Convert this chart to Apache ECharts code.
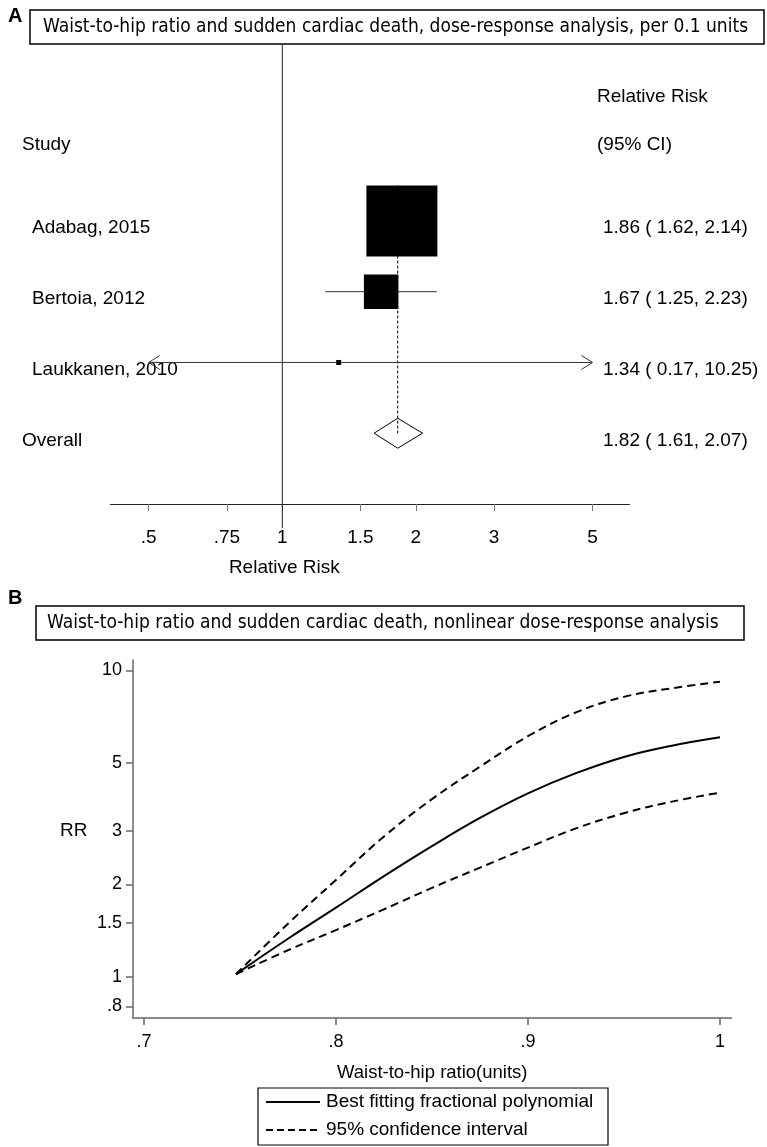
<!DOCTYPE html>
<html><head><meta charset="utf-8">
<script src="https://cdn.jsdelivr.net/npm/echarts@6/dist/echarts.min.js"></script>
<style>html,body{margin:0;padding:0;background:#fff}#c{width:767px;height:1147px}</style>
</head><body><div id="c"></div>
<script>
// ---------- Panel A: forest plot data ----------
const studies = ['Adabag, 2015', 'Bertoia, 2012', 'Laukkanen, 2010'];
const studyRR = [1.86, 1.67, 1.34];
const studyLo = [1.62, 1.25, 0.17];
const studyHi = [2.14, 2.23, 10.25];
const studyWeight = [80.6, 19.0, 0.4];
const overallLabel = 'Overall';
const overallRR = [1.82];
const overallLo = [1.61];
const overallHi = [2.07];
const forestTicks = [0.5, 0.75, 1, 1.5, 2, 3, 5];
const forestTickLabels = ['.5', '.75', '1', '1.5', '2', '3', '5'];

// ---------- Panel B: nonlinear dose-response data ----------
const whr = [0.748, 0.775, 0.8, 0.825, 0.85, 0.875, 0.9, 0.925, 0.95, 0.975, 1.0];
const rrFit = [1.02, 1.33, 1.68, 2.13, 2.67, 3.30, 3.97, 4.62, 5.22, 5.68, 6.05];
const rrUpper = [1.02, 1.49, 2.07, 2.87, 3.80, 4.85, 6.10, 7.30, 8.20, 8.75, 9.19];
const rrLower = [1.02, 1.22, 1.42, 1.66, 1.95, 2.27, 2.64, 3.05, 3.42, 3.73, 3.99];
const whrTicks = [0.7, 0.8, 0.9, 1.0];
const whrTickLabels = ['.7', '.8', '.9', '1'];
const rrTicks = [0.8, 1, 1.5, 2, 3, 5, 10];
const rrTickLabels = ['.8', '1', '1.5', '2', '3', '5', '10'];
const legendNames = ['Best fitting fractional polynomial', '95% confidence interval'];

// ---------- build ----------
const L = Math.log;
const FONT = '"Liberation Sans", Arial, Helvetica, sans-serif';
const TFONT = '"DejaVu Sans Condensed", "DejaVu Sans", sans-serif';
const nS = studies.length;
const overallRow = nS + 1;
const tickMinLn = L(forestTicks[0]);
const tickMaxLn = L(forestTicks[forestTicks.length - 1]);
function lab(v, ticks, labels) {
  let best = 0, bd = Infinity;
  ticks.forEach((t, i) => { const d = Math.abs(L(t) - v); if (d < bd) { bd = d; best = i; } });
  return labels[best];
}
function labLin(v, ticks, labels) {
  let best = 0, bd = Infinity;
  ticks.forEach((t, i) => { const d = Math.abs(t - v); if (d < bd) { bd = d; best = i; } });
  return labels[best];
}

const chart = echarts.init(document.getElementById('c'), null, {renderer: 'canvas'});

const option = {
  animation: false,
  backgroundColor: '#fff',
  grid: [
    {left: 110.5, top: 44, width: 519, height: 460},
    {left: 133, top: 660, width: 598.5, height: 358}
  ],
  xAxis: [
    {
      gridIndex: 0, type: 'value', min: L(0.41), max: L(6.06),
      axisLine: {show: true, onZero: false, lineStyle: {color: '#222', width: 1}},
      axisTick: {show: true, customValues: forestTicks.map(L), length: 7, lineStyle: {color: '#777', width: 1}},
      axisLabel: {customValues: forestTicks.map(L), formatter: v => lab(v, forestTicks, forestTickLabels),
        margin: 24, fontSize: 19, color: '#000', fontFamily: FONT},
      splitLine: {show: false}
    },
    {
      gridIndex: 1, type: 'value', min: 0.6943, max: 1.006,
      axisLine: {show: true, onZero: false, lineStyle: {color: '#666', width: 1.5}},
      axisTick: {show: true, customValues: whrTicks, length: 7, lineStyle: {color: '#666', width: 1.5}},
      axisLabel: {customValues: whrTicks, formatter: v => labLin(v, whrTicks, whrTickLabels),
        margin: 15, fontSize: 18, color: '#000', fontFamily: FONT},
      splitLine: {show: false},
      name: 'Waist-to-hip ratio(units)', nameLocation: 'middle', nameGap: 45,
      nameTextStyle: {fontSize: 18.5, color: '#000', fontFamily: FONT}
    }
  ],
  yAxis: [
    {gridIndex: 0, type: 'value', min: -1.5, max: nS + 2, inverse: true, show: false},
    {
      gridIndex: 1, type: 'value', min: L(0.733), max: L(10.82),
      axisLine: {show: true, onZero: false, lineStyle: {color: '#666', width: 1.5}},
      axisTick: {show: true, customValues: rrTicks.map(L), length: 7, lineStyle: {color: '#666', width: 1.5}},
      axisLabel: {customValues: rrTicks.map(L), formatter: v => lab(v, rrTicks, rrTickLabels),
        margin: 11, fontSize: 18, color: '#000', fontFamily: FONT},
      splitLine: {show: false}
    }
  ],
  series: [
    // null line at RR = 1
    {
      type: 'custom', xAxisIndex: 0, yAxisIndex: 0, clip: false, silent: true,
      data: [[L(1)]],
      renderItem: (params, api) => {
        const a = api.coord([api.value(0), -1.5]);
        const b = api.coord([api.value(0), nS + 2]);
        return {type: 'line', shape: {x1: a[0], y1: a[1], x2: b[0], y2: b[1] + 24},
          style: {stroke: '#222', lineWidth: 1}};
      }
    },
    // overall dashed line
    {
      type: 'custom', xAxisIndex: 0, yAxisIndex: 0, clip: false, silent: true,
      data: [[L(overallRR[0])]],
      renderItem: (params, api) => {
        const a = api.coord([api.value(0), 0.5]);
        const b = api.coord([api.value(0), overallRow]);
        return {type: 'line', shape: {x1: a[0], y1: a[1], x2: b[0], y2: b[1]},
          style: {stroke: '#000', lineWidth: 1, lineDash: [3, 2]}};
      }
    },
    // confidence intervals
    {
      type: 'custom', xAxisIndex: 0, yAxisIndex: 0, clip: false, silent: true,
      data: studies.map((s, i) => [L(studyLo[i]), L(studyHi[i]), i + 1]),
      renderItem: (params, api) => {
        const l = api.value(0), h = api.value(1), row = api.value(2);
        const p1 = api.coord([Math.max(l, tickMinLn), row]);
        const p2 = api.coord([Math.min(h, tickMaxLn), row]);
        const ch = [{type: 'line', shape: {x1: p1[0], y1: p1[1], x2: p2[0], y2: p2[1]},
          style: {stroke: '#333', lineWidth: 1}}];
        if (l < tickMinLn) ch.push({type: 'polyline',
          shape: {points: [[p1[0] + 11, p1[1] - 7], [p1[0], p1[1]], [p1[0] + 11, p1[1] + 7]]},
          style: {stroke: '#333', fill: null, lineWidth: 1}});
        if (h > tickMaxLn) ch.push({type: 'polyline',
          shape: {points: [[p2[0] - 11, p2[1] - 7], [p2[0], p2[1]], [p2[0] - 11, p2[1] + 7]]},
          style: {stroke: '#333', fill: null, lineWidth: 1}});
        return {type: 'group', children: ch};
      }
    },
    // weighted boxes
    {
      type: 'scatter', xAxisIndex: 0, yAxisIndex: 0, silent: true,
      symbol: 'rect',
      symbolSize: (val, p) => Math.sqrt(studyWeight[p.dataIndex]) * 7.91,
      itemStyle: {color: '#000', opacity: 1},
      data: studies.map((s, i) => [L(studyRR[i]), i + 1])
    },
    // overall diamond
    {
      type: 'custom', xAxisIndex: 0, yAxisIndex: 0, clip: false, silent: true,
      data: [[L(overallLo[0]), L(overallRR[0]), L(overallHi[0]), overallRow]],
      renderItem: (params, api) => {
        const row = api.value(3);
        const a = api.coord([api.value(0), row]);
        const m = api.coord([api.value(1), row]);
        const b = api.coord([api.value(2), row]);
        const hh = 15;
        return {type: 'polygon', shape: {points: [[a[0], a[1]], [m[0], m[1] - hh], [b[0], b[1]], [m[0], m[1] + hh]]},
          style: {stroke: '#000', fill: null, lineWidth: 1}};
      }
    },
    // Panel B curves
    {
      name: legendNames[0], type: 'line', xAxisIndex: 1, yAxisIndex: 1,
      symbol: 'none', smooth: 0.4, silent: true,
      lineStyle: {color: '#000', width: 2, type: 'solid'},
      data: whr.map((x, i) => [x, L(rrFit[i])])
    },
    {
      name: legendNames[1], type: 'line', xAxisIndex: 1, yAxisIndex: 1,
      symbol: 'none', smooth: 0.4, silent: true,
      lineStyle: {color: '#000', width: 2, type: [8, 5]},
      data: whr.map((x, i) => [x, L(rrUpper[i])])
    },
    {
      name: legendNames[1], type: 'line', xAxisIndex: 1, yAxisIndex: 1,
      symbol: 'none', smooth: 0.4, silent: true,
      lineStyle: {color: '#000', width: 2, type: [8, 5]},
      data: whr.map((x, i) => [x, L(rrLower[i])])
    }
  ]
};
chart.setOption(option);

// ---------- text graphics positioned from the forest axes ----------
function rowY(r) { return chart.convertToPixel({yAxisIndex: 0}, r); }
const g = [];
function txt(x, y, s, opts) {
  g.push({type: 'text', x: x, y: y,
    style: Object.assign({text: s, fill: '#000', font: '19px ' + FONT, textVerticalAlign: 'middle', textAlign: 'left'}, opts || {})});
}
// panel labels and title boxes
txt(8, 16, 'A', {font: 'bold 20px ' + FONT});
g.push({type: 'rect', shape: {x: 30, y: 10, width: 734, height: 34}, style: {fill: '#fff', stroke: '#000', lineWidth: 1.5}});
txt(43, 27, 'Waist-to-hip ratio and sudden cardiac death, dose-response analysis, per 0.1 units', {font: '19px ' + TFONT});
txt(8, 598, 'B', {font: 'bold 20px ' + FONT});
g.push({type: 'rect', shape: {x: 36, y: 606, width: 708, height: 34}, style: {fill: '#fff', stroke: '#000', lineWidth: 1.5}});
txt(47, 623, 'Waist-to-hip ratio and sudden cardiac death, nonlinear dose-response analysis', {font: '19px ' + TFONT});
// forest headers
txt(597, 97, 'Relative Risk');
txt(22, 145, 'Study');
txt(597, 145, '(95% CI)');
studies.forEach((s, i) => {
  const y = rowY(i + 1) + 7;
  txt(32, y, s);
  txt(603, y, studyRR[i].toFixed(2) + ' ( ' + studyLo[i].toFixed(2) + ', ' + studyHi[i].toFixed(2) + ')');
});
{
  const y = rowY(overallRow) + 8;
  txt(22, y, overallLabel);
  txt(603, y, overallRR[0].toFixed(2) + ' ( ' + overallLo[0].toFixed(2) + ', ' + overallHi[0].toFixed(2) + ')');
}
// forest x-axis title, centred near RR = 1
txt(chart.convertToPixel({xAxisIndex: 0}, L(1)) + 2, 568, 'Relative Risk', {textAlign: 'center'});
// panel B y-axis title
txt(60, 831, 'RR');
// panel B key
g.push({type: 'rect', shape: {x: 258, y: 1088, width: 350, height: 57}, style: {fill: '#fff', stroke: '#000', lineWidth: 1.2}});
g.push({type: 'line', shape: {x1: 266, y1: 1102, x2: 320, y2: 1102}, style: {stroke: '#000', lineWidth: 2}});
g.push({type: 'line', shape: {x1: 266, y1: 1130, x2: 320, y2: 1130}, style: {stroke: '#000', lineWidth: 2, lineDash: [7, 4]}});
txt(326, 1102, legendNames[0]);
txt(326, 1130, legendNames[1]);
chart.setOption({graphic: g});
</script></body></html>
